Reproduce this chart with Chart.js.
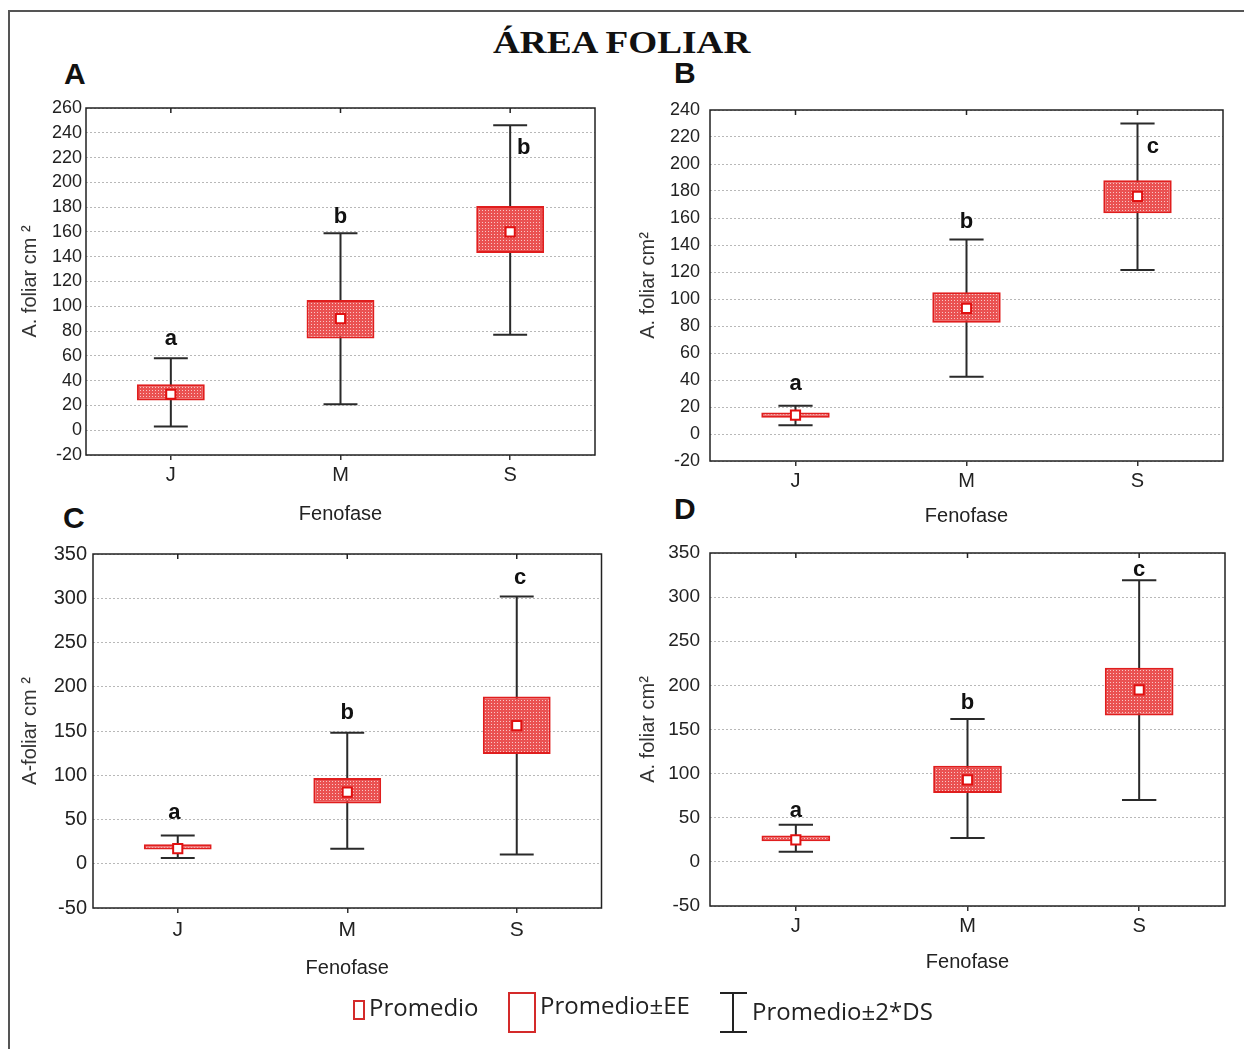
<!DOCTYPE html>
<html>
<head>
<meta charset="utf-8">
<script src="https://cdn.jsdelivr.net/npm/chart.js@4.4.1/dist/chart.umd.min.js"></script>
<style>
  body { margin: 0; background: #fff; }
  #page { position: relative; width: 1244px; height: 1049px; overflow: hidden; font-family: "Liberation Sans", Arial, sans-serif; }
  .frame { position: absolute; left: 8px; top: 10px; width: 1240px; height: 1045px; border-left: 2px solid #555; border-top: 2px solid #555; }
  .title { position: absolute; left: 0; top: 27px; width: 1244px; text-align: center; line-height: 1;
           font-family: "Liberation Serif", "Times New Roman", serif; font-weight: bold; font-size: 31px; color: #111;
           transform: scaleX(1.2); transform-origin: 624px 0; }
  .tag { position: absolute; font-weight: bold; font-size: 30px; line-height: 1; color: #111; }
  canvas { position: absolute; }
  .leg { position: absolute; font-family: "Open Sans", sans-serif; font-size: 24px; line-height: 1; color: #222; white-space: nowrap; }
  .lrect { position: absolute; box-sizing: border-box; border: 2px solid #d42a2a; }
  .iline { position: absolute; background: #222; }
</style>
</head>
<body>
<div id="page">
  <div class="frame"></div>
  <div class="title">ÁREA FOLIAR</div>
  <div class="tag" style="left:64px;top:59px">A</div>
  <div class="tag" style="left:674px;top:58px">B</div>
  <div class="tag" style="left:63px;top:503px">C</div>
  <div class="tag" style="left:674px;top:494px">D</div>

  <canvas id="chartA" width="600" height="440" style="left:10px;top:95px"></canvas>
  <canvas id="chartB" width="615" height="440" style="left:620px;top:95px"></canvas>
  <canvas id="chartC" width="600" height="450" style="left:10px;top:540px"></canvas>
  <canvas id="chartD" width="615" height="450" style="left:620px;top:540px"></canvas>

  <div class="lrect" style="left:353px;top:1000px;width:12px;height:20px"></div>
  <div class="leg" style="left:369px;top:995px">Promedio</div>
  <div class="lrect" style="left:508px;top:992px;width:28px;height:41px"></div>
  <div class="leg" style="left:540px;top:993px">Promedio±EE</div>
  <div class="iline" style="left:732px;top:992px;width:2px;height:41px"></div>
  <div class="iline" style="left:720px;top:992px;width:27px;height:2px"></div>
  <div class="iline" style="left:720px;top:1031px;width:27px;height:2px"></div>
  <div class="leg" style="left:752px;top:999px">Promedio±2*DS</div>
</div>

<script>
const categories = ["J", "M", "S"];

// Panel A
const meanA = [29, 90, 160];
const eeLowA = [24, 74, 143];
const eeHighA = [37, 105, 181];
const dsLowA = [3, 21, 77];
const dsHighA = [58, 159, 246];
const lettersA = ["a", "b", "b"];
const letterAtA = [74, 172, 228];
const yTicksA = [-20, 0, 20, 40, 60, 80, 100, 120, 140, 160, 180, 200, 220, 240, 260];

// Panel B
const meanB = [14, 93, 176];
const eeLowB = [12, 82.5, 163.5];
const eeHighB = [16, 105, 188];
const dsLowB = [6.5, 42.5, 121.5];
const dsHighB = [21, 144, 230];
const lettersB = ["a", "b", "c"];
const letterAtB = [37, 157, 213];
const yTicksB = [-20, 0, 20, 40, 60, 80, 100, 120, 140, 160, 180, 200, 220, 240];

// Panel C
const meanC = [17, 81, 156];
const eeLowC = [16, 68, 124];
const eeHighC = [22, 97, 189];
const dsLowC = [6.5, 17, 10.5];
const dsHighC = [32, 148, 302];
const lettersC = ["a", "b", "c"];
const letterAtC = [57, 170, 323];
const yTicksC = [-50, 0, 50, 100, 150, 200, 250, 300, 350];

// Panel D
const meanD = [25, 93, 195];
const eeLowD = [23.5, 78, 166];
const eeHighD = [30, 109, 220];
const dsLowD = [11.5, 27, 70];
const dsHighD = [42, 162, 319];
const lettersD = ["a", "b", "c"];
const letterAtD = [58, 180, 331];
const yTicksD = [-50, 0, 50, 100, 150, 200, 250, 300, 350];

const FONT = "'Liberation Sans', Arial, sans-serif";

function hatch(ctx) {
    const c = document.createElement("canvas");
    c.width = 3;
    c.height = 3;
    const g = c.getContext("2d");
    g.fillStyle = "#ea5252";
    g.fillRect(0, 0, 3, 3);
    g.fillStyle = "#f9c6c6";
    g.fillRect(1, 1, 1, 1);
    return ctx.createPattern(c, "repeat");
}

// whiskers, significance letters and the frame round the plot
function extras(dsLow, dsHigh, letters, letterAt, shift) {
    return {
        id: "extras",
        beforeDatasetsDraw(chart) {
            const { ctx, scales: { x, y } } = chart;
            const step = x.getPixelForValue(1) - x.getPixelForValue(0);
            ctx.save();
            ctx.strokeStyle = "#2a2a2a";
            ctx.lineWidth = 2;
            dsLow.forEach((lo, i) => {
                const px = x.getPixelForValue(i);
                const yl = y.getPixelForValue(lo);
                const yh = y.getPixelForValue(dsHigh[i]);
                const half = step * 0.1;
                ctx.beginPath();
                ctx.moveTo(px, yh);
                ctx.lineTo(px, yl);
                ctx.moveTo(px - half, yh);
                ctx.lineTo(px + half, yh);
                ctx.moveTo(px - half, yl);
                ctx.lineTo(px + half, yl);
                ctx.stroke();
            });
            ctx.restore();
        },
        afterDatasetsDraw(chart) {
            const { ctx, scales: { x, y } } = chart;
            const step = x.getPixelForValue(1) - x.getPixelForValue(0);
            ctx.save();
            ctx.fillStyle = "#111";
            ctx.font = "bold 22px " + FONT;
            ctx.textAlign = "center";
            ctx.textBaseline = "middle";
            letters.forEach((t, i) => {
                ctx.fillText(t, x.getPixelForValue(i) + shift[i] * step, y.getPixelForValue(letterAt[i]));
            });
            ctx.restore();
        },
        afterDraw(chart) {
            const { ctx, chartArea: a, scales: { x } } = chart;
            ctx.save();
            ctx.strokeStyle = "#222";
            ctx.lineWidth = 1.5;
            ctx.strokeRect(a.left, a.top, a.right - a.left, a.bottom - a.top);
            ctx.beginPath();
            categories.forEach((c, i) => {
                const px = x.getPixelForValue(i);
                ctx.moveTo(px, a.top);
                ctx.lineTo(px, a.top + 5);
            });
            ctx.stroke();
            ctx.restore();
        },
    };
}

function panel(id, p) {
    const ctx = document.getElementById(id).getContext("2d");
    new Chart(ctx, {
        type: "bar",
        data: {
            labels: categories,
            datasets: [
                {
                    type: "bar",
                    data: p.eeLow.map((lo, i) => [lo, p.eeHigh[i]]),
                    backgroundColor: hatch(ctx),
                    borderColor: "#e01e1e",
                    borderWidth: 2,
                    borderSkipped: false,
                    barPercentage: 0.4,
                    categoryPercentage: 1,
                    order: 2,
                },
                {
                    type: "line",
                    data: p.mean,
                    showLine: false,
                    pointStyle: "rect",
                    pointRadius: 6.5,
                    pointBackgroundColor: "#fff",
                    pointBorderColor: "#e01010",
                    pointBorderWidth: 2,
                    order: 1,
                },
            ],
        },
        options: {
            responsive: false,
            animation: false,
            events: [],
            layout: { padding: { top: p.padTop, right: p.padRight, left: 0, bottom: 0 } },
            plugins: { legend: { display: false }, tooltip: { enabled: false } },
            scales: {
                x: {
                    offset: true,
                    grid: { display: true, drawOnChartArea: false, drawTicks: true, tickLength: 5, offset: false, color: "#333", lineWidth: 1.5 },
                    border: { display: false },
                    ticks: { font: { family: FONT, size: p.xTickSize }, color: "#222", padding: p.xTickPad },
                    title: { display: true, text: "Fenofase", color: "#222", font: { family: FONT, size: 20 }, padding: { top: 0, bottom: p.xTitlePad } },
                    afterFit: (s) => { s.height = p.axisH; },
                },
                y: {
                    min: p.yTicks[0],
                    max: p.yTicks[p.yTicks.length - 1],
                    afterBuildTicks: (s) => { s.ticks = p.yTicks.map((v) => ({ value: v })); },
                    grid: { color: "#b8b8b8", lineWidth: 1, drawTicks: false },
                    border: { display: false, dash: [2, 2] },
                    ticks: { font: { family: FONT, size: p.yTickSize }, color: "#222", padding: p.yTickPad },
                    title: { display: true, text: p.yTitle, color: "#333", font: { family: FONT, size: 20 }, padding: { top: p.yTitlePad, bottom: 0 } },
                    afterFit: (s) => {
                        s.width = p.axisW;
                        s.paddingTop = 0;
                        s.paddingBottom = 0;
                    },
                },
            },
        },
        plugins: [extras(p.dsLow, p.dsHigh, p.letters, p.letterAt, p.shift)],
    });
}

panel("chartA", {
    mean: meanA, eeLow: eeLowA, eeHigh: eeHighA, dsLow: dsLowA, dsHigh: dsHighA,
    letters: lettersA, letterAt: letterAtA, yTicks: yTicksA, shift: [0, 0, 0.08],
    yTitle: "A. foliar cm ²",
    padTop: 13, padRight: 15, axisW: 76, axisH: 80,
    xTickSize: 20, xTickPad: 3, xTitlePad: 9, yTickSize: 18, yTickPad: 4, yTitlePad: 8,
});

panel("chartB", {
    mean: meanB, eeLow: eeLowB, eeHigh: eeHighB, dsLow: dsLowB, dsHigh: dsHighB,
    letters: lettersB, letterAt: letterAtB, yTicks: yTicksB, shift: [0, 0, 0.09],
    yTitle: "A. foliar cm²",
    padTop: 15, padRight: 12, axisW: 90, axisH: 74,
    xTickSize: 20, xTickPad: 3, xTitlePad: 7, yTickSize: 18, yTickPad: 10, yTitlePad: 16,
});

panel("chartC", {
    mean: meanC, eeLow: eeLowC, eeHigh: eeHighC, dsLow: dsLowC, dsHigh: dsHighC,
    letters: lettersC, letterAt: letterAtC, yTicks: yTicksC, shift: [-0.02, 0, 0.02],
    yTitle: "A-foliar cm ²",
    padTop: 14, padRight: 8, axisW: 83, axisH: 82,
    xTickSize: 21, xTickPad: 5, xTitlePad: 10, yTickSize: 20, yTickPad: 6, yTitlePad: 8,
});

panel("chartD", {
    mean: meanD, eeLow: eeLowD, eeHigh: eeHighD, dsLow: dsLowD, dsHigh: dsHighD,
    letters: lettersD, letterAt: letterAtD, yTicks: yTicksD, shift: [0, 0, 0],
    yTitle: "A. foliar cm²",
    padTop: 13, padRight: 10, axisW: 90, axisH: 84,
    xTickSize: 20, xTickPad: 3, xTitlePad: 16, yTickSize: 19, yTickPad: 10, yTitlePad: 16,
});
</script>
</body>
</html>
